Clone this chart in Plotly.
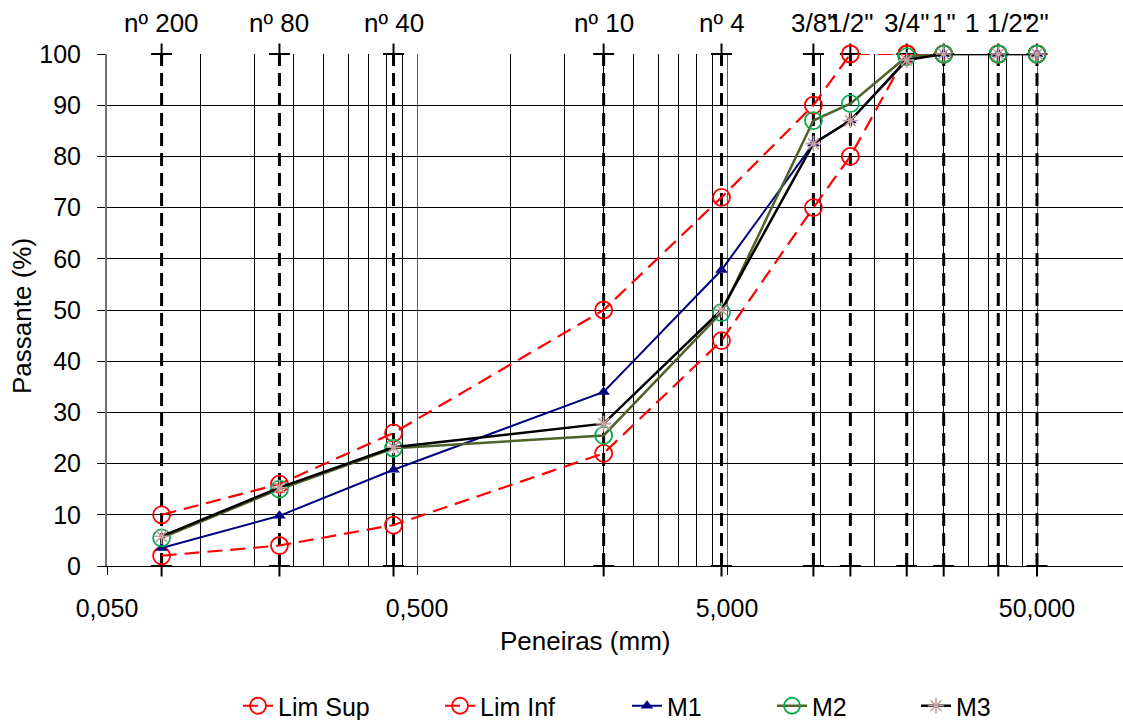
import math
import plotly.graph_objects as go

# Aberturas das peneiras (mm) e rótulos correspondentes
peneiras_mm = [0.075, 0.18, 0.42, 2.0, 4.8, 9.5, 12.5, 19.0, 25.0, 37.5, 50.0]
rotulos = ["nº 200", "nº 80", "nº 40", "nº 10", "nº 4", '3/8"', '1/2"', '3/4"', '1"', '1 1/2"', '2"']

# Faixa granulométrica (% passante)
lim_sup = [10, 16, 26, 50, 72, 90, 100, 100, 100, 100, 100]
lim_inf = [2, 4, 8, 22, 44, 70, 80, 100, 100, 100, 100]

# Misturas
m1 = [3.5, 9.8, 18.8, 34.0, 57.8, 82.5, 87.0, 99.0, 100, 100, 100]
m2 = [5.5, 15.0, 23.0, 25.5, 49.5, 87.0, 90.3, 99.5, 100, 100, 100]
m3 = [5.8, 15.3, 23.2, 27.8, 50.0, 82.5, 87.0, 98.8, 100, 100, 100]

x_ticks = [0.05, 0.5, 5, 50]
x_ticktext = ["0,050", "0,500", "5,000", "50,000"]

FONT = "Liberation Sans, Arial, sans-serif"
FS = 25

W, H = 1123, 720
L, R, T, B = 107, 0, 54, 154
pw, ph = W - L - R, H - T - B


def px_x(v):
    return (v - L) / pw


def px_y(v):
    return (H - B - v) / ph


fig = go.Figure()

# Linhas verticais tracejadas nas peneiras
vx, vy = [], []
for p in peneiras_mm:
    vx += [p, p, None]
    vy += [0, 100, None]
fig.add_trace(go.Scatter(
    x=vx, y=vy, mode="lines+markers", showlegend=False, hoverinfo="skip",
    line=dict(color="black", width=3, dash="13px,7px"),
    marker=dict(symbol="cross-thin-open", size=15, color="black", line=dict(width=2, color="black")),
    cliponaxis=False,
))

# Cada série tem a sua própria caixa de legenda, alinhadas na base
series = [
    dict(name="Lim Sup", y=lim_sup, legend="legend", leg_x=238,
         line=dict(color="#FF0000", width=2.2, dash="15px,8px"),
         marker=dict(symbol="circle-open", size=17, color="#FF0000", line=dict(width=1.8, color="#FF0000"))),
    dict(name="Lim Inf", y=lim_inf, legend="legend2", leg_x=440,
         line=dict(color="#FF0000", width=2.2, dash="15px,8px"),
         marker=dict(symbol="circle-open", size=17, color="#FF0000", line=dict(width=1.8, color="#FF0000"))),
    dict(name="M1", y=m1, legend="legend3", leg_x=627,
         line=dict(color="#000080", width=2),
         marker=dict(symbol="triangle-up", size=11, color="#000080")),
    dict(name="M2", y=m2, legend="legend4", leg_x=772,
         line=dict(color="#4F6228", width=2.5),
         marker=dict(symbol="circle-open", size=17, color="#00B050", line=dict(width=1.8, color="#00B050"))),
    dict(name="M3", y=m3, legend="legend5", leg_x=916,
         line=dict(color="black", width=2.5),
         marker=dict(symbol="asterisk-open", size=13, color="#C8A0A0", line=dict(width=1.6, color="#C8A0A0"))),
]

legendas = {}
for s in series:
    fig.add_trace(go.Scatter(
        x=peneiras_mm, y=s["y"], name=s["name"], mode="lines+markers",
        legend=s["legend"], line=s["line"], marker=s["marker"], cliponaxis=False,
    ))
    legendas[s["legend"]] = dict(
        orientation="h", xanchor="left", yanchor="middle",
        x=px_x(s["leg_x"]), y=px_y(706),
        font=dict(family=FONT, size=FS, color="black"),
        bgcolor="rgba(0,0,0,0)", itemwidth=30,
    )

# Rótulos das peneiras acima do gráfico
for p, r in zip(peneiras_mm, rotulos):
    fig.add_annotation(
        x=math.log10(p), y=100, xref="x", yref="y", text=r, showarrow=False,
        yanchor="middle", xanchor="center", yshift=31,
        font=dict(family=FONT, size=FS + 1, color="black"),
    )

# Títulos dos eixos
fig.add_annotation(
    x=px_x(585), y=px_y(641), xref="paper", yref="paper", text="Peneiras (mm)",
    showarrow=False, xanchor="center", yanchor="middle",
    font=dict(family=FONT, size=FS + 1, color="black"),
)
fig.add_annotation(
    x=px_x(22), y=px_y(316), xref="paper", yref="paper", text="Passante (%)",
    showarrow=False, textangle=-90, xanchor="center", yanchor="middle",
    font=dict(family=FONT, size=FS + 1, color="black"),
)

decada_px = 310.0
x0 = math.log10(0.05)
x1 = x0 + pw / decada_px

minor_vals = [k * base for base in (0.05, 0.5, 5, 50) for k in range(2, 10)]

fig.update_layout(
    width=W, height=H,
    margin=dict(l=L, r=R, t=T, b=B, autoexpand=False),
    paper_bgcolor="white", plot_bgcolor="white",
    font=dict(family=FONT, size=FS, color="black"),
    showlegend=True,
    xaxis=dict(
        type="log", range=[x0, x1],
        tickvals=x_ticks, ticktext=x_ticktext,
        ticks="outside", ticklen=8, tickcolor="black", tickwidth=1,
        showline=True, linecolor="black", linewidth=1,
        showgrid=True, gridcolor="#606060", gridwidth=1,
        zeroline=False,
        ticklabelstandoff=12,
        tickfont=dict(family=FONT, size=FS, color="black"),
        minor=dict(tickvals=minor_vals, showgrid=True, gridcolor="black", gridwidth=1, ticks=""),
    ),
    yaxis=dict(
        range=[0, 100], dtick=10, tick0=0,
        ticks="outside", ticklen=8, tickcolor="black", tickwidth=1,
        showline=True, linecolor="#707070", linewidth=2,
        showgrid=True, gridcolor="black", gridwidth=1,
        zeroline=False,
        ticklabelstandoff=11,
        tickfont=dict(family=FONT, size=FS, color="black"),
    ),
    **legendas,
)

fig.write_html("out.html")
